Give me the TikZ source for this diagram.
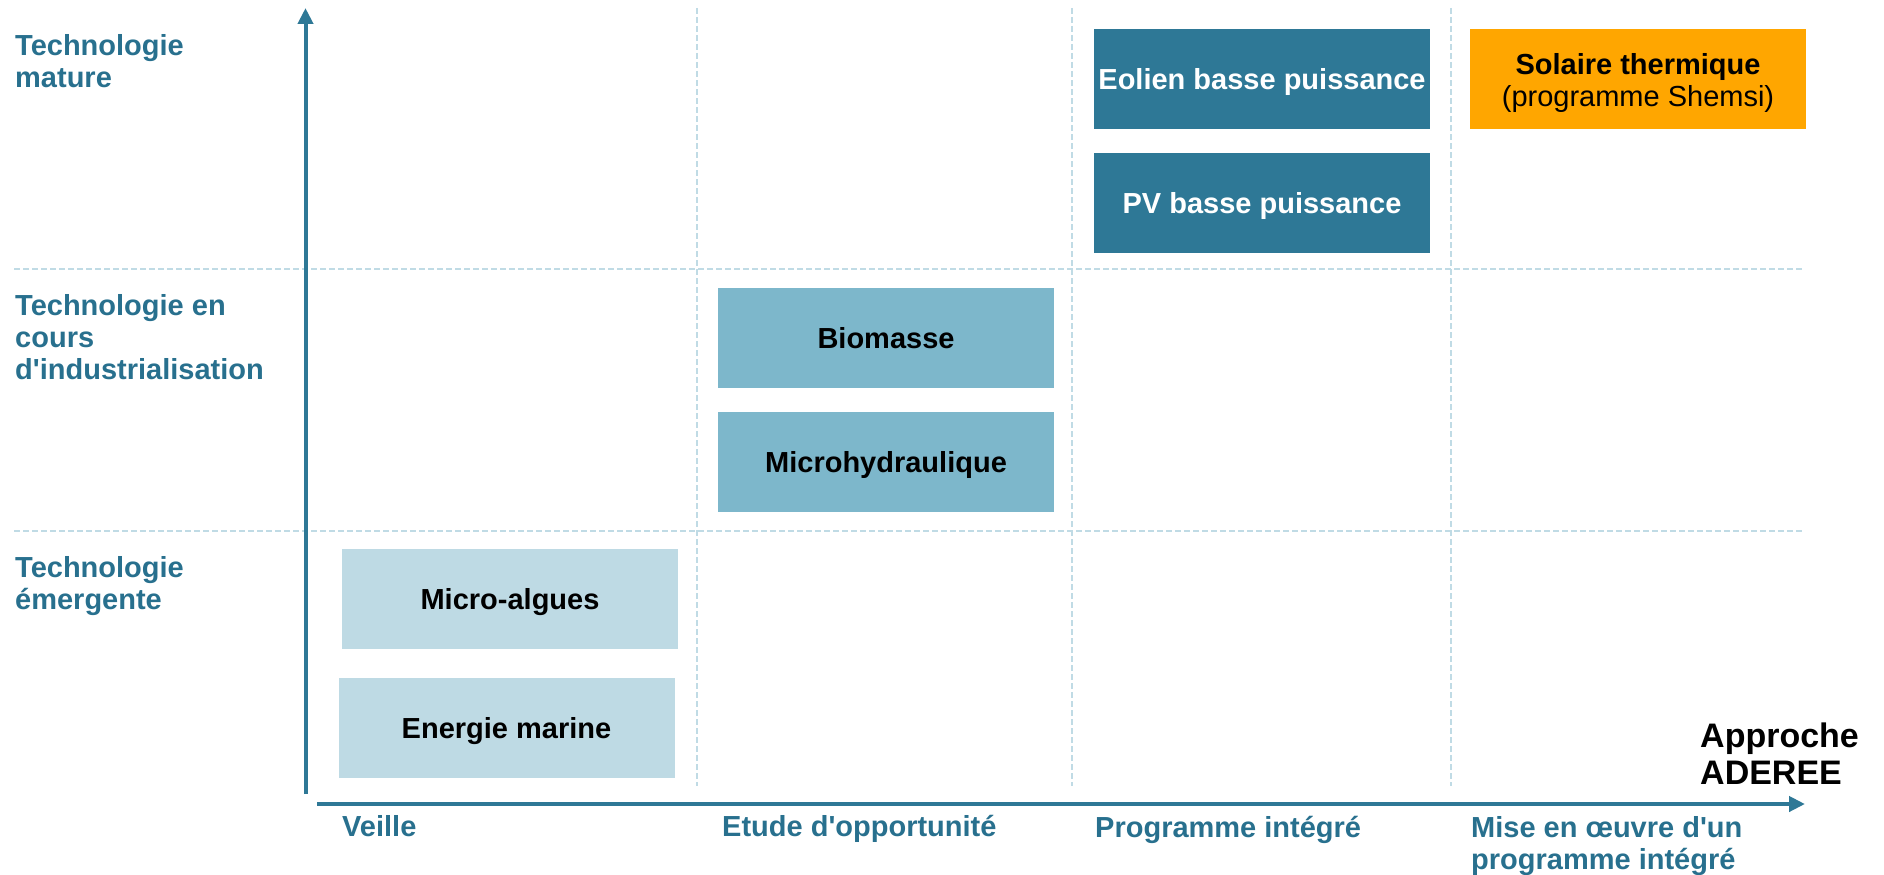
\documentclass[tikz,border=0pt]{standalone}
\usepackage{fontspec}
\setmainfont{Liberation Sans}
\usetikzlibrary{arrows.meta}
\definecolor{axisblue}{RGB}{46,120,150}
\definecolor{labelblue}{RGB}{40,112,142}
\definecolor{midblue}{RGB}{125,183,203}
\definecolor{lightblue}{RGB}{190,218,228}
\definecolor{gridblue}{RGB}{192,219,229}
\definecolor{orangebox}{RGB}{255,166,0}
\newcommand{\apos}{\textquotesingle}
\tikzset{
  box/.style={rectangle, inner sep=0pt, minimum width=336pt, minimum height=100pt,
    font=\fontsize{29}{32}\selectfont\bfseries, text height=21pt, text depth=0pt},
  boxtwo/.style={rectangle, inner sep=0pt, minimum width=336pt, minimum height=100pt,
    font=\fontsize{29}{32}\selectfont\bfseries, align=center},
  lbl/.style={anchor=north west, inner sep=0pt, align=left, text=labelblue,
    font=\fontsize{29}{32}\selectfont\bfseries},
  gridline/.style={draw=gridblue, line width=2pt, dash pattern=on 6pt off 3pt},
  axisline/.style={draw=axisblue, line width=4pt, -{Triangle[width=15pt,length=16pt]}},
}
\begin{document}
\begin{tikzpicture}[x=1pt,y=-1pt]
\useasboundingbox (0,0) rectangle (1884,875);
% grid
\draw[gridline] (697,8) -- (697,786);
\draw[gridline] (1072,8) -- (1072,786);
\draw[gridline] (1451,8) -- (1451,786);
\draw[gridline] (14,269) -- (1804,269);
\draw[gridline] (14,531) -- (1804,531);
% axes
\coordinate (yb) at (305.5,794);
\coordinate (yt) at (305.5,8);
\coordinate (xl) at (317,804);
\coordinate (xr) at (1805,804);
\draw[axisline] (yb) -- (yt);
\draw[axisline] (xl) -- (xr);
% boxes
\node[box, fill=lightblue, text=black] (algues) at (510,599) {Micro-algues};
\node[box, fill=lightblue, text=black] (marine) at (506.5,727.5) {Energie marine};
\node[box, fill=midblue, text=black] (biomasse) at (886,338) {Biomasse};
\node[box, fill=midblue, text=black] (micro) at (886,462) {Microhydraulique};
\node[box, fill=axisblue, text=white] (eolien) at (1262,79) {Eolien basse puissance};
\node[box, fill=axisblue, text=white] (pv) at (1262,203) {PV basse puissance};
\node[boxtwo, fill=orangebox, text=black] (solaire) at (1638,79) {};
\node[inner sep=0pt, align=center, text=black, font=\fontsize{29}{32}\selectfont\bfseries,
  yshift=-4pt] (solairetxt) at (solaire.center) {Solaire thermique\\{\mdseries (programme Shemsi)}};
% row labels
\node[lbl] (mature) at (15,34) {Technologie\\mature};
\node[lbl] (indus) at (15,294) {Technologie en\\cours\\d\apos industrialisation};
\node[lbl] (emerg) at (15,556) {Technologie\\émergente};
% column labels
\node[lbl] (veille) at (342,815) {Veille};
\node[lbl] (etude) at (722,815) {Etude d\apos opportunité};
\node[lbl] (prog) at (1095,816) {Programme intégré};
\node[lbl] (mise) at (1471,816) {Mise en œuvre d\apos un\\programme intégré};
% axis title
\node[anchor=north west, inner sep=0pt, align=left, text=black,
  font=\fontsize{34}{37}\selectfont\bfseries] (approche) at (1700,723) {Approche\\ADEREE};
\end{tikzpicture}
\end{document}
